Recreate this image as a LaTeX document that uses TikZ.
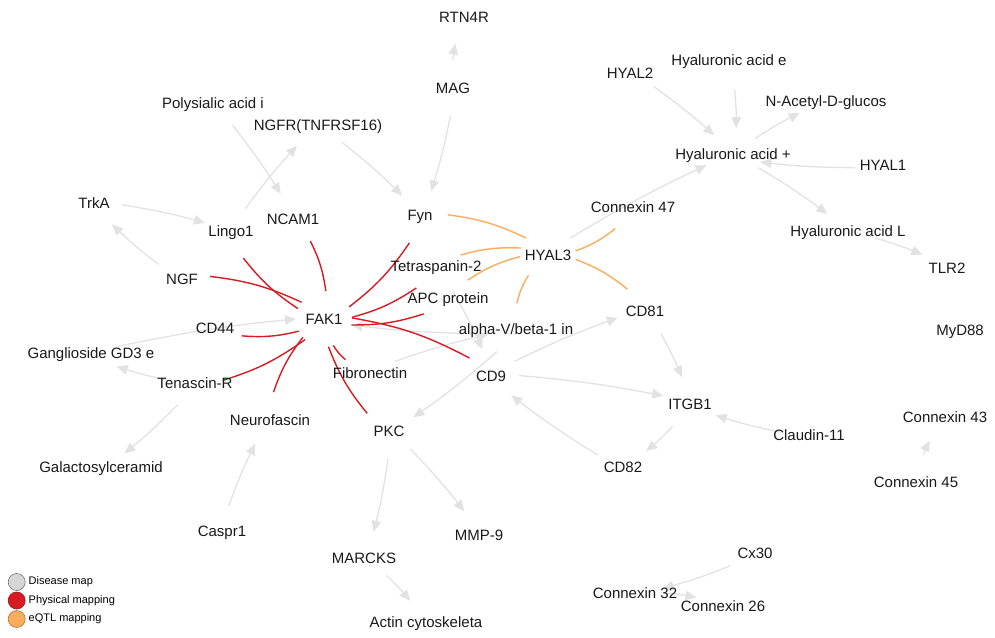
\documentclass[tikz,border=0pt]{standalone}
\usepackage{fontspec}
\setmainfont{Liberation Sans}
\usetikzlibrary{arrows.meta,calc}
\definecolor{linkgrey}{RGB}{226,226,226}
\definecolor{physred}{RGB}{214,28,34}
\definecolor{eqtlorange}{RGB}{252,172,92}
\definecolor{keygrey}{RGB}{214,214,214}
\pgfdeclarelayer{edges}
\pgfsetlayers{edges,main}
% curved link whose visible part starts 28pt away from each centre
\newcommand\curvedlink[3]{%
  \draw[#1] ($(#2.center)!28pt!-21:(#3.center)$) to[bend right=9] ($(#3.center)!28pt!21:(#2.center)$);}
% disease-map arrow, slightly bent the other way
\newcommand\maplink[2]{%
  \draw[dmap] ($(#1.center)!28pt!9:(#2.center)$) to[bend left=3] ($(#2.center)!28pt!-9:(#1.center)$);}
\begin{document}
\begin{tikzpicture}[x=1pt,y=-1pt,
  gene/.style={circle,minimum size=56pt,inner sep=0pt,label={center:#1}},
  every label/.style={font=\fontsize{15}{18}\selectfont,inner sep=0pt,text=black!90},
  dmap/.style={linkgrey,line width=1.3pt,-{Triangle[length=11pt,width=9.5pt]}},
  phys/.style={physred,line width=1.4pt},
  eqtl/.style={eqtlorange,line width=1.4pt},
  key/.style={circle,minimum size=17pt,inner sep=0pt,line width=0.6pt},
  keytext/.style={anchor=west,font=\fontsize{11}{13}\selectfont,inner sep=0pt}]
\useasboundingbox (0,0) rectangle (995,637);

% genes and compounds
\node[gene=RTN4R] (rtn) at (464,17) {};
\node[gene=MAG] (mag) at (453,88) {};
\node[gene=HYAL2] (hyal2) at (630,73) {};
\node[gene={Hyaluronic acid e}] (hae) at (729,62) {};
\node[gene={N-Acetyl-D-glucos}] (nacetyl) at (826,103) {};
\node[gene={Polysialic acid i}] (psa) at (213,105) {};
\node[gene={NGFR(TNFRSF16)}] (ngfr) at (318,127) {};
\node[gene={Hyaluronic acid +}] (hap) at (733,156) {};
\node[gene=HYAL1] (hyal1) at (883,165) {};
\node[gene=TrkA] (trka) at (94,203) {};
\node[gene=Fyn] (fyn) at (420,217) {};
\node[gene={Connexin 47}] (cx47) at (633,207) {};
\node[gene=NCAM1] (ncam) at (293,219) {};
\node[gene=Lingo1] (lingo) at (231,233) {};
\node[gene={Hyaluronic acid L}] (hal) at (848,233) {};
\node[gene=HYAL3] (hyal3) at (548,255) {};
\node[gene=Tetraspanin-2] (tspan) at (436,268) {};
\node[gene=NGF] (ngf) at (182,279) {};
\node[gene=TLR2] (tlr2) at (947,268) {};
\node[gene={APC protein}] (apc) at (448,300) {};
\node[gene=CD81] (cd81) at (645,311) {};
\node[gene=FAK1] (fak) at (324,319) {};
\node[gene=CD44] (cd44) at (215,328) {};
\node[gene={alpha-V/beta-1 in}] (itgav) at (516,331) {};
\node[gene=MyD88] (myd88) at (960,332) {};
\node[gene={Ganglioside GD3 e}] (gd3) at (91,355) {};
\node[gene=Fibronectin] (fn) at (370,373) {};
\node[gene=CD9] (cd9) at (491,376) {};
\node[gene=Tenascin-R] (tnr) at (195,383) {};
\node[gene=ITGB1] (itgb1) at (690,404) {};
\node[gene=Neurofascin] (nfasc) at (270,420) {};
\node[gene={Connexin 43}] (cx43) at (945,417) {};
\node[gene=PKC] (pkc) at (389,431) {};
\node[gene=Claudin-11] (cldn) at (809,435) {};
\node[gene=CD82] (cd82) at (623,467) {};
\node[gene=Galactosylceramid] (galc) at (101,469) {};
\node[gene={Connexin 45}] (cx45) at (916,482) {};
\node[gene=Caspr1] (caspr) at (222,533) {};
\node[gene=MMP-9] (mmp9) at (479,535) {};
\node[gene=Cx30] (cx30) at (755,553) {};
\node[gene=MARCKS] (marcks) at (364,558) {};
\node[gene={Connexin 32}] (cx32) at (635,593) {};
\node[gene={Connexin 26}] (cx26) at (723,606) {};
\node[gene={Actin cytoskeleta}] (actin) at (426,624) {};

\begin{pgfonlayer}{edges}
% disease map links
\maplink{mag}{rtn}
\maplink{mag}{fyn}
\maplink{ngfr}{fyn}
\maplink{psa}{ncam}
\maplink{lingo}{ngfr}
\maplink{trka}{lingo}
\maplink{ngf}{trka}
\maplink{hyal2}{hap}
\maplink{hae}{hap}
\maplink{hap}{nacetyl}
\maplink{hyal1}{hap}
\maplink{hap}{hal}
\maplink{hyal3}{hap}
\maplink{hal}{tlr2}
\maplink{cd9}{cd81}
\maplink{cd81}{itgb1}
\maplink{cd9}{itgb1}
\maplink{itgb1}{cd82}
\maplink{cd82}{cd9}
\maplink{cldn}{itgb1}
\maplink{cx45}{cx43}
\maplink{itgav}{pkc}
\maplink{tspan}{cd9}
\maplink{fn}{itgav}
\maplink{itgav}{fak}
\maplink{gd3}{fak}
\maplink{tnr}{gd3}
\maplink{tnr}{galc}
\maplink{caspr}{nfasc}
\maplink{pkc}{marcks}
\maplink{pkc}{mmp9}
\maplink{marcks}{actin}
\maplink{cx30}{cx32}
\maplink{cx32}{cx26}

% physical interactions
\curvedlink{phys}{fak}{ngf}
\curvedlink{phys}{fak}{ncam}
\curvedlink{phys}{fak}{fyn}
\curvedlink{phys}{fak}{tspan}
\curvedlink{phys}{fak}{apc}
\curvedlink{phys}{fak}{fn}
\curvedlink{phys}{fak}{pkc}
\curvedlink{phys}{fak}{nfasc}
\curvedlink{phys}{cd9}{fak}
\curvedlink{phys}{cd44}{fak}
\curvedlink{phys}{tnr}{fak}
\curvedlink{phys}{lingo}{fak}

% eQTL links
\curvedlink{eqtl}{hyal3}{fyn}
\curvedlink{eqtl}{hyal3}{tspan}
\curvedlink{eqtl}{hyal3}{apc}
\curvedlink{eqtl}{hyal3}{itgav}
\curvedlink{eqtl}{hyal3}{cx47}
\curvedlink{eqtl}{cd81}{hyal3}
\end{pgfonlayer}

% legend
\node[key,fill=keygrey,draw=black!55] (k1) at (16.7,582) {};
\node[key,fill=physred,draw=physred!70!black] (k2) at (16.7,600.5) {};
\node[key,fill=eqtlorange,draw=eqtlorange!70!black] (k3) at (16.7,619) {};
\node[keytext] (t1) at (28.5,582) {Disease map};
\node[keytext] (t2) at (28.5,600.5) {Physical mapping};
\node[keytext] (t3) at (28.5,619) {eQTL mapping};
\end{tikzpicture}
\end{document}
